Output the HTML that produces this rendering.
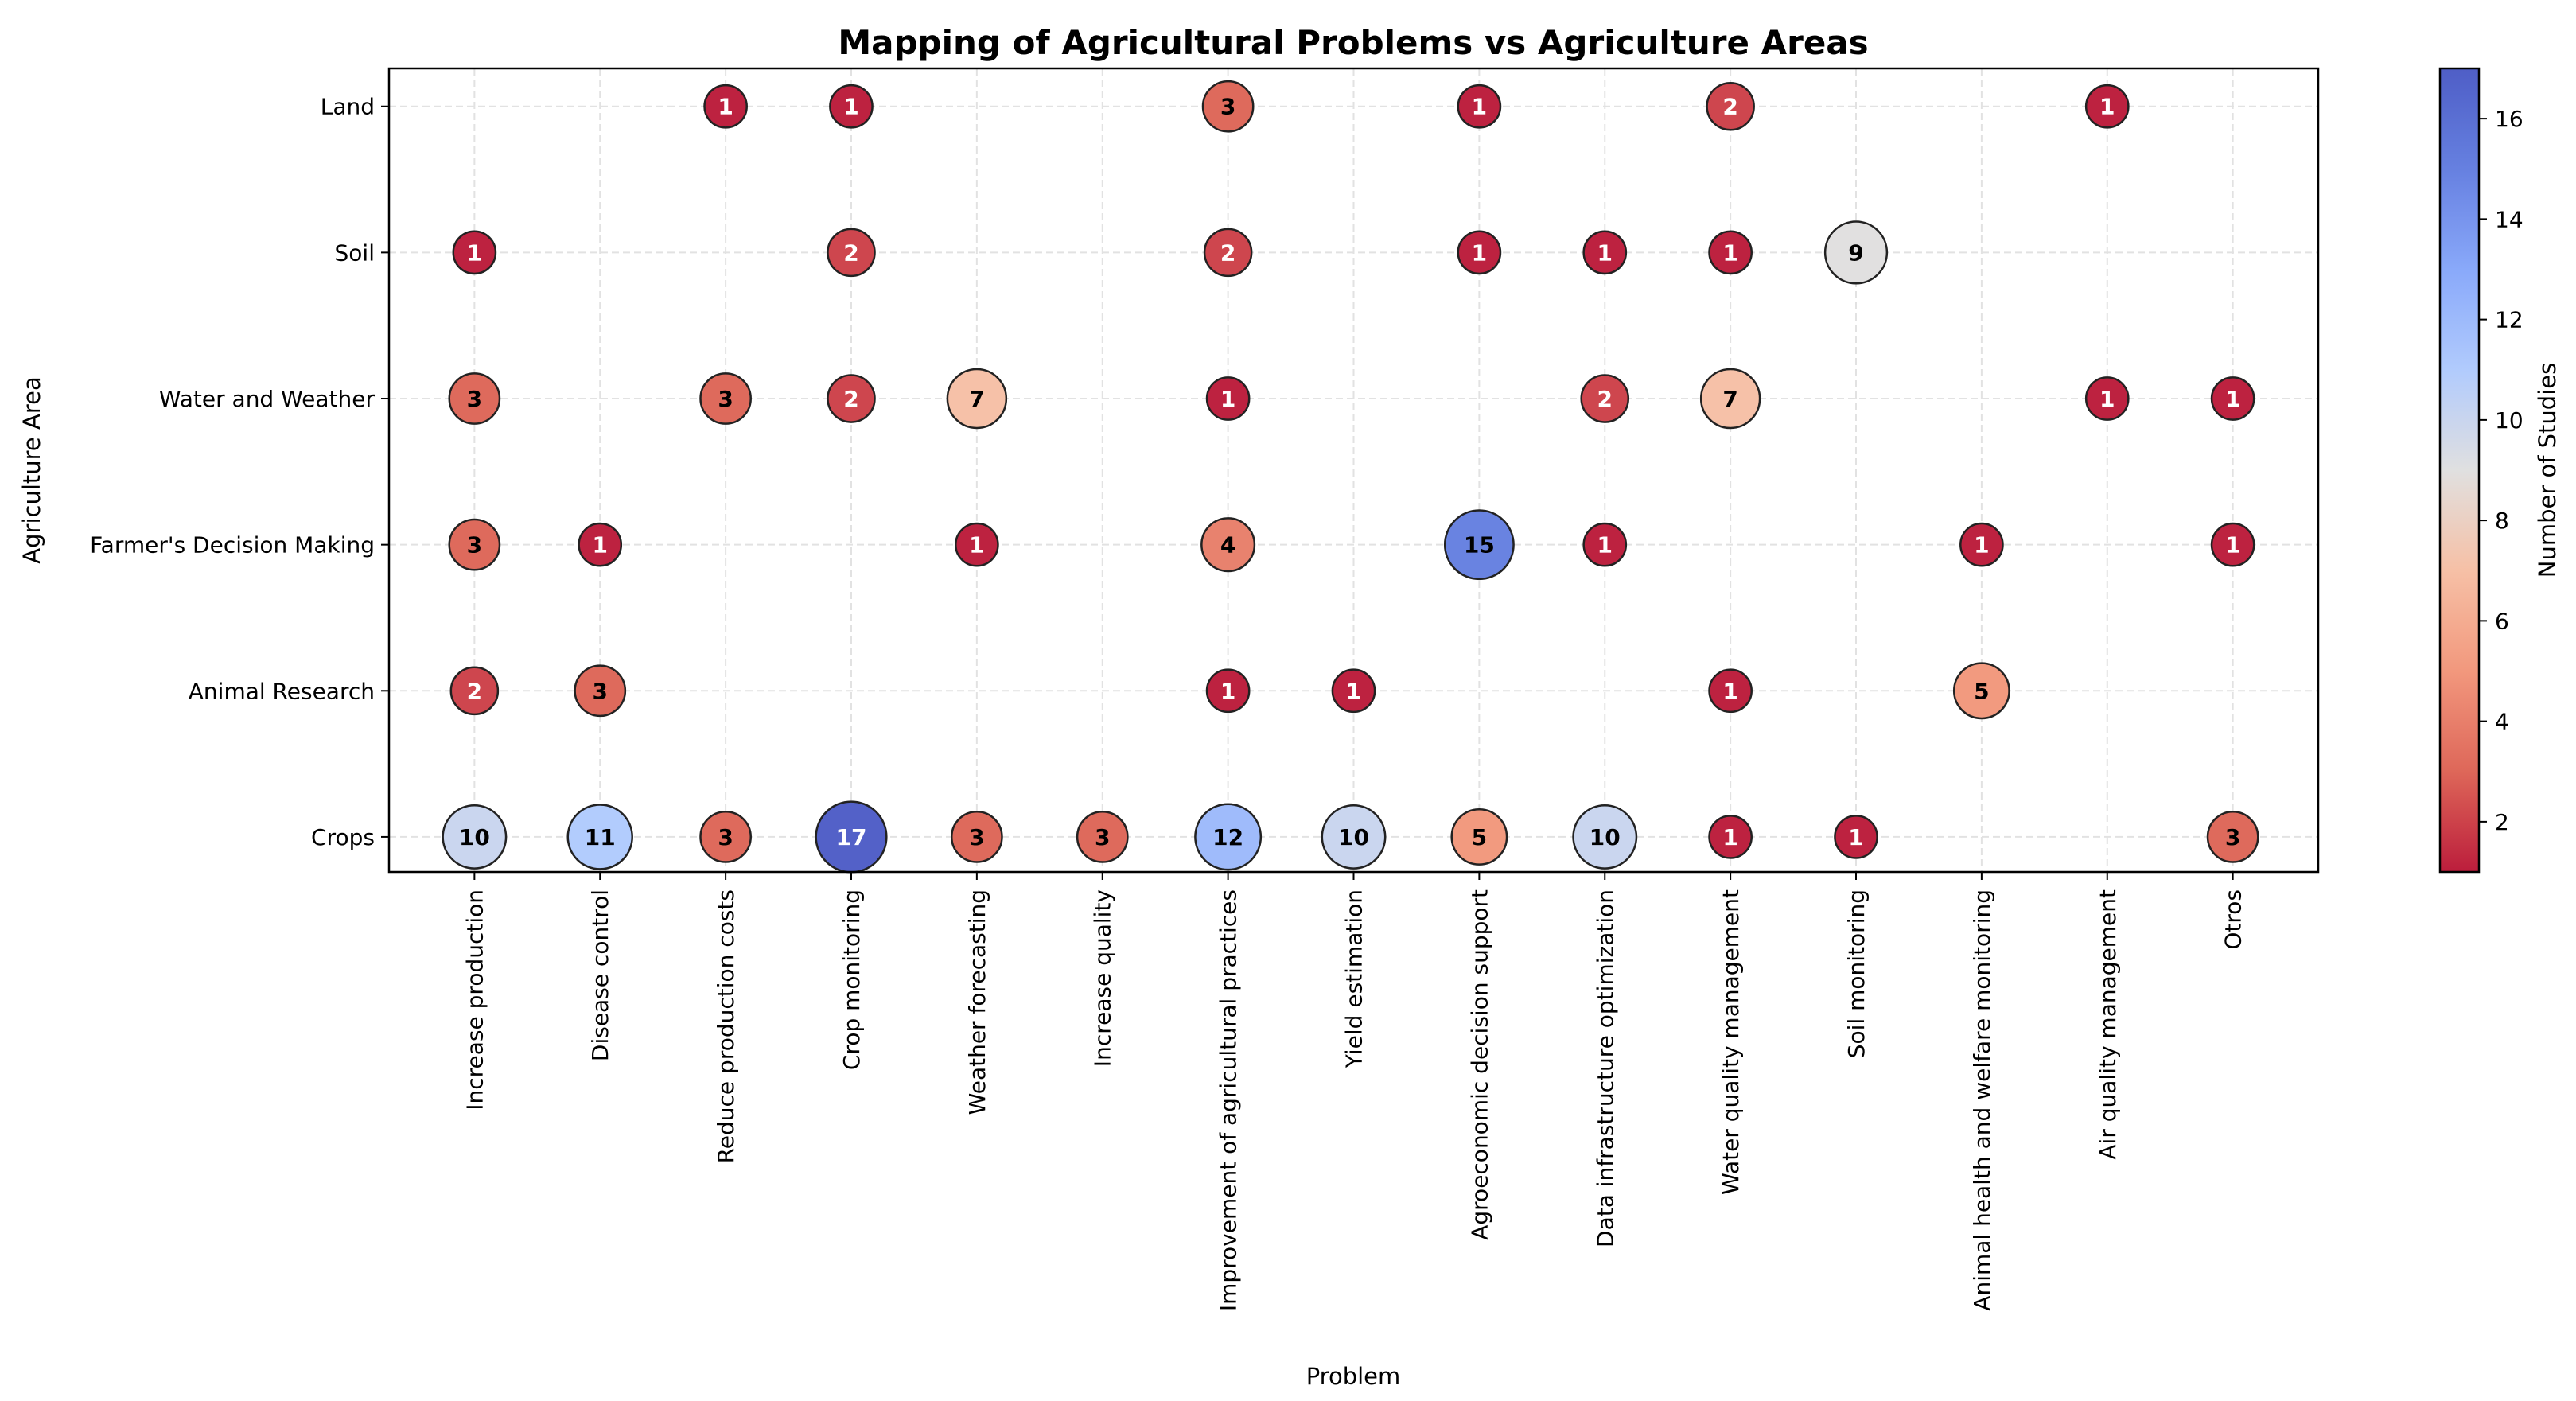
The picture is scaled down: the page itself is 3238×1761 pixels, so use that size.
<!DOCTYPE html>
<html><head><meta charset="utf-8"><style>
html,body{margin:0;padding:0;background:#fff;}
svg{display:block;font-family:"DejaVu Sans","Liberation Sans",sans-serif;}
</style></head><body>
<svg id="chart" width="3238" height="1761" viewBox="0 0 3238 1761" xmlns="http://www.w3.org/2000/svg">
<defs><linearGradient id="cbgrad" x1="0" y1="1" x2="0" y2="0"></linearGradient></defs>
<text x="1701" y="68" text-anchor="middle" font-size="42" font-weight="bold">Mapping of Agricultural Problems vs Agriculture Areas</text>
<g id="grid"></g>
<g id="bubbles"></g>
<rect x="489" y="86" width="2425" height="1010" fill="none" stroke="#000" stroke-width="2.5"/>
<g id="xaxis"></g>
<g id="yaxis"></g>
<text x="1701" y="1740" text-anchor="middle" font-size="29">Problem</text>
<text transform="translate(50,591) rotate(-90)" text-anchor="middle" font-size="29">Agriculture Area</text>
<rect x="3067" y="86" width="49" height="1010" fill="url(#cbgrad)"/>
<rect x="3067" y="86" width="49" height="1010" fill="none" stroke="#000" stroke-width="2.5"/>
<g id="cbticks"></g>
<text transform="translate(3212,591) rotate(-90)" text-anchor="middle" font-size="29">Number of Studies</text>
</svg>
<script>
const problems = ["Increase production","Disease control","Reduce production costs","Crop monitoring","Weather forecasting","Increase quality","Improvement of agricultural practices","Yield estimation","Agroeconomic decision support","Data infrastructure optimization","Water quality management","Soil monitoring","Animal health and welfare monitoring","Air quality management","Otros"];
const areas = ["Land","Soil","Water and Weather","Farmer's Decision Making","Animal Research","Crops"];
const landCounts   = [0,0,1,1,0,0,3,0,1,0,2,0,0,1,0];
const soilCounts   = [1,0,0,2,0,0,2,0,1,1,1,9,0,0,0];
const waterCounts  = [3,0,3,2,7,0,1,0,0,2,7,0,0,1,1];
const farmerCounts = [3,1,0,0,1,0,4,0,15,1,0,0,1,0,1];
const animalCounts = [2,3,0,0,0,0,1,1,0,0,1,0,5,0,0];
const cropsCounts  = [10,11,3,17,3,3,12,10,5,10,1,1,0,0,3];
const colorbarTicks = [2,4,6,8,10,12,14,16];

const NS="http://www.w3.org/2000/svg";
const rows=[landCounts,soilCounts,waterCounts,farmerCounts,animalCounts,cropsCounts];
const L=489,R=2914,T=86,B=1096, vmin=1, vmax=17;
const xOf=i=>L+(i+0.68)*(R-L)/(problems.length-1+1.36);
const yOf=j=>T+(j+0.26)*(B-T)/(areas.length-1+0.5);
const cbY=v=>B-(v-vmin)/(vmax-vmin)*(B-T);
const anchors=[[0,[59,76,192]],[0.125,[85,114,221]],[0.25,[124,159,249]],[0.375,[168,197,253]],[0.5,[221,220,220]],[0.625,[245,185,156]],[0.75,[240,140,110]],[0.875,[218,86,70]],[1,[180,4,38]]];
function coolwarm(t){for(let k=1;k<anchors.length;k++){if(t<=anchors[k][0]){const a=anchors[k-1],b=anchors[k];const f=(t-a[0])/(b[0]-a[0]);return a[1].map((c,i)=>c+(b[1][i]-c)*f);}}return anchors[anchors.length-1][1];}
function colorFor(v,alpha){const t=1-(v-vmin)/(vmax-vmin);const c=coolwarm(t);return 'rgb('+c.map(x=>Math.round(x*alpha+255*(1-alpha))).join(',')+')';}
function mk(tag,attrs,parent){const e=document.createElementNS(NS,tag);for(const k in attrs)e.setAttribute(k,attrs[k]);parent.appendChild(e);return e;}

const grid=document.getElementById('grid');
problems.forEach((p,i)=>{const l=mk('line',{x1:xOf(i),x2:xOf(i),y1:T,y2:B,stroke:'#e2e2e2','stroke-width':2,'stroke-dasharray':'9,5'},grid);

});
areas.forEach((a,j)=>{const l=mk('line',{x1:L,x2:R,y1:yOf(j),y2:yOf(j),stroke:'#e2e2e2','stroke-width':2,'stroke-dasharray':'9,5'},grid);

});

const xa=document.getElementById('xaxis');
problems.forEach((p,i)=>{const x=xOf(i);mk('line',{x1:x,x2:x,y1:B,y2:B+10,stroke:'#000','stroke-width':2},xa);
const t=mk('text',{transform:'translate('+(x+10)+','+(B+22)+') rotate(-90)','text-anchor':'end','font-size':28},xa);t.textContent=p;

});
const ya=document.getElementById('yaxis');
areas.forEach((a,j)=>{const y=yOf(j);mk('line',{x1:L-10,x2:L,y1:y,y2:y,stroke:'#000','stroke-width':2},ya);
const t=mk('text',{x:L-18,y:y+10,'text-anchor':'end','font-size':28},ya);t.textContent=a;

});

const bg=document.getElementById('bubbles');
rows.forEach((row,j)=>row.forEach((v,i)=>{if(!v)return;
const r=Math.sqrt(370+420*Math.sqrt(v));const g=mk('g',{},bg);


mk('circle',{cx:xOf(i),cy:yOf(j),r:r-1.5,fill:colorFor(v,0.88),stroke:'#222','stroke-width':2.5},g);
const n=(v-vmin)/(vmax-vmin);
const t=mk('text',{x:xOf(i),y:yOf(j)+10,'text-anchor':'middle','font-size':28,'font-weight':'bold',fill:(n<0.1||n>0.9)?'#fff':'#000'},g);t.textContent=v;}));

const grad=document.getElementById('cbgrad');
for(let k=0;k<=32;k++){const v=vmin+(vmax-vmin)*k/32;mk('stop',{offset:(k*100/32)+'%','stop-color':colorFor(v,0.9)},grad);}
const cb=document.getElementById('cbticks');
colorbarTicks.forEach(v=>{const y=cbY(v);mk('line',{x1:3116,x2:3126,y1:y,y2:y,stroke:'#000','stroke-width':2},cb);
const t=mk('text',{x:3136,y:y+10,'font-size':28},cb);t.textContent=v;

});
</script>
</body></html>
